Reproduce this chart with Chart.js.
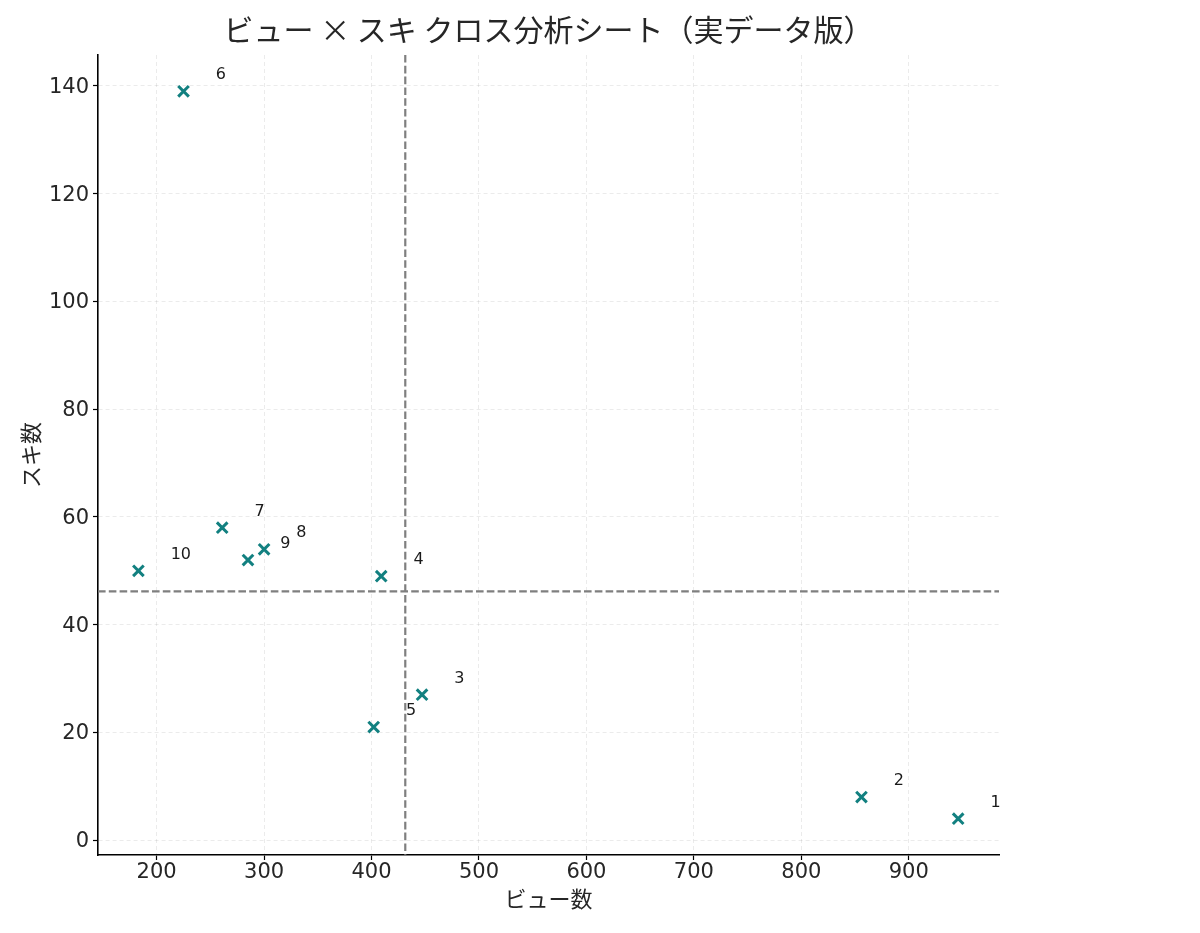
<!DOCTYPE html>
<html lang="ja">
<head>
    <meta charset="UTF-8">
    <title>ビュー × スキ クロス分析シート</title>
    <script src="https://cdn.jsdelivr.net/npm/chart.js"></script>
    <style>
        body { margin: 0; background: #fff; }
        #wrap { width: 1200px; height: 933px; position: relative; }
    </style>
</head>
<body>
<div id="wrap"><canvas id="scatter"></canvas></div>
<script>
    // 記事番号・ビュー数・スキ数
    const postLabels = ["1", "2", "3", "4", "5", "6", "7", "8", "9", "10"];
    const views = [946, 856, 447, 409, 402, 225, 261, 300, 285, 183];
    const likes = [4, 8, 27, 49, 21, 139, 58, 54, 52, 50];
    const xTicks = [200, 300, 400, 500, 600, 700, 800, 900];
    const yTicks = [0, 20, 40, 60, 80, 100, 120, 140];

    const JP_FONT = "'Noto Sans CJK JP', 'Noto Sans', sans-serif";
    const NUM_FONT = "'DejaVu Sans', 'Noto Sans CJK JP', sans-serif";

    const mean = arr => arr.reduce((s, v) => s + v, 0) / arr.length;
    const meanViews = mean(views);
    const meanLikes = mean(likes);

    // 平均線（破線）
    const meanLines = {
        id: 'meanLines',
        beforeDatasetsDraw(chart) {
            const { ctx, chartArea, scales } = chart;
            const px = scales.x.getPixelForValue(meanViews);
            const py = scales.y.getPixelForValue(meanLikes);
            ctx.save();
            ctx.strokeStyle = '#7f7f7f';
            ctx.lineWidth = 2.2;
            ctx.setLineDash([7.6, 3.2]);
            ctx.beginPath();
            ctx.moveTo(px, chartArea.top);
            ctx.lineTo(px, chartArea.bottom);
            ctx.moveTo(chartArea.left, py);
            ctx.lineTo(chartArea.right, py);
            ctx.stroke();
            ctx.restore();
        }
    };

    // 各点の番号ラベル
    const pointNames = {
        id: 'pointNames',
        afterDatasetsDraw(chart) {
            const { ctx, scales } = chart;
            ctx.save();
            ctx.font = "16px " + NUM_FONT;
            ctx.fillStyle = '#1a1a1a';
            ctx.textAlign = 'left';
            ctx.textBaseline = 'middle';
            postLabels.forEach((t, i) => {
                ctx.fillText(t, scales.x.getPixelForValue(views[i] + 30), scales.y.getPixelForValue(likes[i] + 3));
            });
            ctx.restore();
        }
    };

    const axisCommon = {
        grid: { color: 'rgba(0,0,0,0.08)', lineWidth: 1, tickColor: '#000', tickLength: 5, tickWidth: 1.2, tickBorderDash: [] },
        border: { color: '#000', width: 1.6, dash: [4, 3] },
        ticks: { color: '#262626', font: { family: NUM_FONT, size: 21 } }
    };

    new Chart(document.getElementById('scatter'), {
        type: 'scatter',
        data: {
            datasets: [{
                label: '記事',
                data: views.map((v, i) => ({ x: v, y: likes[i] })),
                pointStyle: 'crossRot',
                pointRadius: 7.5,
                pointHoverRadius: 7.5,
                borderColor: '#128080',
                backgroundColor: '#128080',
                pointBorderWidth: 3
            }]
        },
        options: {
            responsive: true,
            maintainAspectRatio: false,
            animation: false,
            layout: { padding: { left: 0, right: 201, top: 0, bottom: 0 } },
            plugins: {
                legend: { display: false },
                tooltip: { enabled: false },
                title: {
                    display: true,
                    fullSize: false,
                    text: 'ビュー × スキ クロス分析シート（実データ版）',
                    color: '#262626',
                    font: { family: JP_FONT, size: 30, weight: 'normal' },
                    padding: { top: 12, bottom: 7 }
                }
            },
            scales: {
                x: {
                    type: 'linear',
                    min: 145.4,
                    max: 984,
                    afterBuildTicks: s => { s.ticks = xTicks.map(v => ({ value: v })); },
                    afterFit: s => { s.height = 78; },
                    grid: axisCommon.grid,
                    border: axisCommon.border,
                    ticks: Object.assign({}, axisCommon.ticks, { padding: 0, maxRotation: 0 }),
                    title: { display: true, text: 'ビュー数', color: '#262626', font: { family: JP_FONT, size: 22 }, padding: { top: 0, bottom: 21 } }
                },
                y: {
                    type: 'linear',
                    min: -2.75,
                    max: 145.75,
                    afterBuildTicks: s => { s.ticks = yTicks.map(v => ({ value: v })); },
                    afterFit: s => { s.width = 98; },
                    grid: axisCommon.grid,
                    border: axisCommon.border,
                    ticks: Object.assign({}, axisCommon.ticks, { padding: 4, labelOffset: 1.5 }),
                    title: { display: true, text: 'スキ数', color: '#262626', font: { family: JP_FONT, size: 22 }, padding: { top: 17, bottom: 0 } }
                }
            }
        },
        plugins: [meanLines, pointNames]
    });
</script>
</body>
</html>
